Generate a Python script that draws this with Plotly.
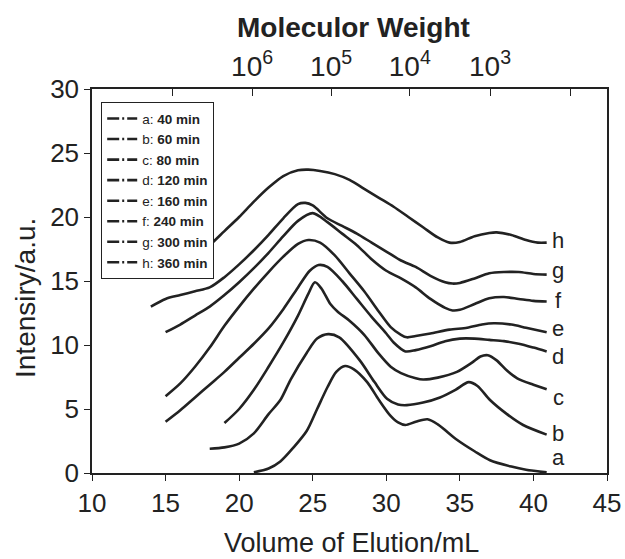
import plotly.graph_objects as go

# ---- data ----
curve_names = ["a", "b", "c", "d", "e", "f", "g", "h"]
legend_labels = ["a: <b>40 min</b>", "b: <b>60 min</b>", "c: <b>80 min</b>", "d: <b>120 min</b>",
                 "e: <b>160 min</b>", "f: <b>240 min</b>", "g: <b>300 min</b>", "h: <b>360 min</b>"]

a_x = [21, 22, 22.8, 23.7, 24.6, 25.3, 26, 26.6, 27.2, 27.8, 28.7, 29.5, 30.26, 30.8, 31.3, 32, 32.8, 33.5, 34.8, 36, 37.05, 38.5, 39.5, 40.9]
a_y = [0.05, 0.35, 0.9, 2.0, 3.3, 5.0, 6.7, 7.9, 8.36, 8.1, 7.1, 5.7, 4.5, 3.95, 3.75, 4.0, 4.2, 3.8, 2.6, 1.7, 1.0, 0.5, 0.25, 0.05]

b_x = [18, 19, 20, 21, 22, 22.8, 23.5, 24.6, 25.3, 26.05, 26.8, 28.2, 29.2, 30.05, 30.8, 31.4, 32.5, 33.65, 34.7, 35.6, 36.2, 37.05, 38.2, 39.3, 40.9]
b_y = [1.9, 2.0, 2.3, 3.1, 4.6, 5.7, 7.3, 9.4, 10.5, 10.85, 10.6, 8.8, 7.1, 5.8, 5.35, 5.3, 5.5, 5.9, 6.5, 7.1, 6.8, 5.7, 4.6, 3.75, 3.0]

c_x = [19, 20, 21, 22, 23, 24, 24.7, 25.15, 25.6, 26.2, 26.7, 27.5, 28.5, 29.5, 30.3, 31, 32, 32.5, 33.5, 34.8, 35.8, 36.4, 36.9, 37.5, 38.2, 38.9, 40, 40.9]
c_y = [3.9, 5.0, 6.5, 8.3, 10.2, 12.3, 14.0, 14.9, 14.4, 13.2, 12.6, 11.9, 10.8, 9.3, 8.3, 7.8, 7.4, 7.3, 7.45, 7.9, 8.6, 9.1, 9.2, 8.8, 8.0, 7.4, 6.9, 6.55]

d_x = [15, 16, 17, 18, 19, 20, 21, 22, 23, 24, 24.8, 25.4, 26, 27, 28, 29, 30, 30.5, 31.3, 32, 33, 34, 35, 36, 37, 38, 39, 40, 40.9]
d_y = [4.0, 4.9, 5.9, 6.9, 7.9, 9.0, 10.1, 11.3, 12.8, 14.5, 15.8, 16.25, 16.1, 15.0, 13.6, 12.2, 10.9, 10.2, 9.5, 9.6, 9.9, 10.3, 10.5, 10.5, 10.4, 10.3, 10.1, 9.8, 9.5]

e_x = [15, 16, 17, 18, 19, 20, 21, 22, 23, 24, 24.7, 25.5, 26.5, 27.5, 28.5, 29.5, 30.3, 31, 31.4, 32, 33, 34.3, 35.5, 36.5, 37.3, 38.5, 39.5, 40.9]
e_y = [6.0, 7.0, 8.3, 9.8, 11.5, 13.0, 14.4, 15.7, 16.9, 17.9, 18.2, 18.0, 17.0, 15.6, 14.2, 12.6, 11.4, 10.8, 10.6, 10.7, 10.9, 11.2, 11.35, 11.6, 11.7, 11.6, 11.35, 11.0]

f_x = [15, 16, 17, 18, 19, 20, 21, 22, 23, 24, 25, 26, 27, 28, 29, 30, 31, 32, 33, 34, 34.5, 35, 36, 37, 38, 39, 40, 40.9]
f_y = [11.0, 11.6, 12.3, 13.0, 13.9, 14.9, 16.0, 17.2, 18.5, 19.7, 20.3, 19.6, 18.7, 17.8, 16.7, 15.8, 15.2, 14.5, 13.6, 12.9, 12.7, 12.75, 13.2, 13.65, 13.75, 13.6, 13.45, 13.4]

g_x = [14, 15, 16, 17, 18, 19, 20, 21, 22, 23, 24, 24.5, 25, 26, 27, 28, 29, 30, 31, 32, 33, 34, 34.5, 35, 36, 37, 38, 39, 40, 40.9]
g_y = [13.0, 13.6, 13.9, 14.2, 14.5, 15.3, 16.3, 17.4, 18.6, 19.9, 21.0, 21.1, 20.9, 19.9, 19.3, 18.7, 18.0, 17.3, 16.6, 16.1, 15.4, 14.9, 14.8, 14.85, 15.2, 15.6, 15.7, 15.7, 15.55, 15.5]

h_x = [14, 15, 16, 17, 18, 19, 20, 21, 22, 23, 24, 24.7, 25.5, 26.5, 27.5, 28.5, 29.5, 30.5, 31.5, 32.5, 33.5, 34.3, 35, 36, 37, 37.5, 38.5, 39.5, 40.3, 40.9]
h_y = [15.5, 15.8, 16.2, 16.8, 17.8, 18.9, 20.0, 21.2, 22.3, 23.2, 23.65, 23.7, 23.6, 23.35, 22.9, 22.2, 21.5, 20.8, 20.0, 19.2, 18.4, 18.0, 18.05, 18.5, 18.75, 18.8, 18.6, 18.2, 18.0, 18.0]

label_x = [41.7] * 8
label_y = [1.25, 3.1, 5.9, 9.1, 11.3, 13.5, 15.85, 18.2]

bottom_ticks = [10, 15, 20, 25, 30, 35, 40, 45]
left_ticks = [0, 5, 10, 15, 20, 25, 30]
top_tick_pos = [15.44, 20.88, 26.25, 31.6, 37.05, 42.5]
top_tick_text = ["", "10<sup>6</sup>", "10<sup>5</sup>", "10<sup>4</sup>", "10<sup>3</sup>", ""]

series_x = [a_x, b_x, c_x, d_x, e_x, f_x, g_x, h_x]
series_y = [a_y, b_y, c_y, d_y, e_y, f_y, g_y, h_y]

FONT = "Arial, Liberation Sans, sans-serif"
INK = "#222222"

fig = go.Figure()

for xs, ys in zip(series_x, series_y):
    fig.add_trace(go.Scatter(x=xs, y=ys, mode="lines", showlegend=False,
                             line=dict(color=INK, width=2.6, shape="spline", smoothing=0.8),
                             hoverinfo="skip"))

# legend-only entries with dash-dot samples
for lab in legend_labels:
    fig.add_trace(go.Scatter(x=[None], y=[None], mode="lines", name=lab,
                             line=dict(color=INK, width=2.6, dash="12px,3px,2px,3px,40px")))

# dummy trace for top axis
fig.add_trace(go.Scatter(x=[None], y=[None], xaxis="x2", showlegend=False, hoverinfo="skip"))

for nm, lx, ly in zip(curve_names, label_x, label_y):
    fig.add_annotation(x=lx, y=ly, text=nm, showarrow=False, xanchor="center", yanchor="middle",
                       font=dict(family=FONT, size=22, color=INK))

fig.add_annotation(xref="paper", yref="paper", x=(353 - 92) / 515.0, y=1.0 + (89 - 27) / 384.0,
                   text="<b>Moleculor Weight</b>", showarrow=False, xanchor="center", yanchor="middle",
                   font=dict(family=FONT, size=28, color=INK))
fig.add_annotation(xref="paper", yref="paper", x=(351 - 92) / 515.0, y=-(543 - 473) / 384.0,
                   text="Volume of Elution/mL", showarrow=False, xanchor="center", yanchor="middle",
                   font=dict(family=FONT, size=27, color=INK))
fig.add_annotation(xref="paper", yref="paper", x=-(92 - 25) / 515.0, y=(473 - 298) / 384.0,
                   text="Intensiry/a.u.", showarrow=False, xanchor="center", yanchor="middle",
                   textangle=-90, font=dict(family=FONT, size=28, color=INK))

fig.update_layout(
    width=625, height=559,
    margin=dict(l=92, r=18, t=89, b=86, autoexpand=False),
    paper_bgcolor="white", plot_bgcolor="white",
    font=dict(family=FONT, color=INK),
    xaxis=dict(range=[10, 45], tickvals=bottom_ticks, ticks="outside", ticklen=6, tickwidth=1.3,
               tickcolor=INK, showline=True, linecolor=INK, linewidth=1.5, showgrid=False,
               zeroline=False, automargin=False, tickfont=dict(size=26, family=FONT, color=INK)),
    xaxis2=dict(range=[10, 45], overlaying="x", side="top", tickvals=top_tick_pos,
                ticktext=top_tick_text, ticks="inside", ticklen=7, tickwidth=1.3, tickcolor=INK,
                showline=True, linecolor=INK, linewidth=1.5, showgrid=False, zeroline=False,
                automargin=False, tickfont=dict(size=28, family=FONT, color=INK)),
    yaxis=dict(range=[0, 30], tickvals=left_ticks, ticks="outside", ticklen=6, tickwidth=1.3,
               tickcolor=INK, showline=True, mirror=True, linecolor=INK, linewidth=1.5,
               showgrid=False, zeroline=False, automargin=False,
               tickfont=dict(size=26, family=FONT, color=INK)),
    legend=dict(x=(101 - 92) / 515.0, y=(473 - 102) / 384.0, xanchor="left", yanchor="top",
                bgcolor="white", bordercolor=INK, borderwidth=1.2,
                font=dict(family=FONT, size=13.5, color=INK), tracegroupgap=0,
                itemwidth=30),
    showlegend=True,
)

fig.write_html("out.html")
